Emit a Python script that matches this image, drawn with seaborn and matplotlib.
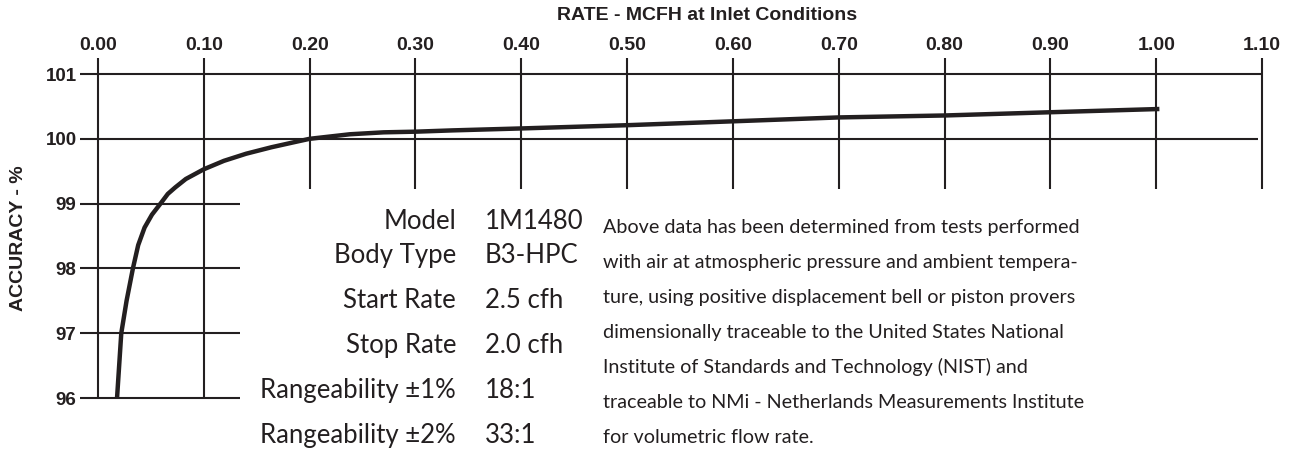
import numpy as np
import pandas as pd
import matplotlib.pyplot as plt
import seaborn as sns

# curve
rate = [0.018, 0.020, 0.022, 0.027, 0.033, 0.038, 0.044, 0.051, 0.060, 0.066,
        0.073, 0.083, 0.100, 0.119, 0.140, 0.164, 0.186, 0.200, 0.238, 0.270,
        0.300, 0.335, 0.400, 0.500, 0.600, 0.700, 0.800, 0.900, 1.003]
accuracy = [96.00, 96.50, 97.00, 97.50, 98.00, 98.36, 98.63, 98.83, 99.02, 99.15,
            99.25, 99.38, 99.53, 99.66, 99.77, 99.87, 99.95, 100.00, 100.07, 100.10,
            100.11, 100.13, 100.16, 100.21, 100.27, 100.33, 100.36, 100.41, 100.46]

x_ticks = [0.0, 0.1, 0.2, 0.3, 0.4, 0.5, 0.6, 0.7, 0.8, 0.9, 1.0, 1.1]
x_labels = ['0.00', '0.10', '0.20', '0.30', '0.40', '0.50', '0.60', '0.70',
            '0.80', '0.90', '1.00', '1.10']
y_ticks = [96, 97, 98, 99, 100, 101]

spec_names = ['Model', 'Body Type', 'Start Rate', 'Stop Rate',
              'Rangeability ±1%', 'Rangeability ±2%']
spec_values = ['1M1480', 'B3-HPC', '2.5 cfh', '2.0 cfh', '18:1', '33:1']

note_lines = [
    'Above data has been determined from tests performed',
    'with air at atmospheric pressure and ambient tempera-',
    'ture, using positive displacement bell or piston provers',
    'dimensionally traceable to the United States National',
    'Institute of Standards and Technology (NIST) and',
    'traceable to NMi - Netherlands Measurements Institute',
    'for volumetric flow rate.',
]

sns.set_style("white")
plt.rcParams['font.family'] = ['Liberation Sans', 'DejaVu Sans']
ink = '#231f20'

W, H = 1299, 453
fig = plt.figure(figsize=(W / 100, H / 100), dpi=100)
fig.patch.set_facecolor('white')

def px(x, y):
    return x / W, 1 - y / H

ax = fig.add_axes([80 / W, 1 - 443.4 / H, 1203.2 / W, 385.6 / H])
ax.set_xlim(-0.017, 1.12)
ax.set_ylim(95.3, 101.25)

# ruled grid
ax.hlines(101, -0.017, 1.10, color=ink, lw=1.5)
ax.hlines(100, -0.017, 1.096, color=ink, lw=1.5)
ax.hlines(y_ticks[:4], -0.017, 0.134, color=ink, lw=1.5)
ax.vlines(x_ticks[:2], 96, 101.25, color=ink, lw=1.5)
ax.vlines(x_ticks[2:], 99.23, 101.25, color=ink, lw=1.5)

df = pd.DataFrame({'rate': rate, 'accuracy': accuracy})
sns.lineplot(data=df, x='rate', y='accuracy', color=ink, lw=3.2, ax=ax,
             sort=False, estimator=None, zorder=5)
ax.lines[-1].set_solid_capstyle('butt')
ax.lines[-1].set_solid_joinstyle('round')

ax.xaxis.tick_top()
ax.set_xticks(x_ticks)
ax.set_xticklabels(x_labels, fontsize=14, fontweight='bold', color=ink)
ax.set_yticks(y_ticks)
ax.set_yticklabels([str(v) for v in y_ticks], fontsize=13.5, fontweight='bold', color=ink)
ax.tick_params(axis='x', length=0, pad=2.5)
ax.tick_params(axis='y', length=0, pad=2.5)
ax.set_xlabel('')
ax.set_ylabel('')
sns.despine(ax=ax, left=True, bottom=True, top=True, right=True)

fig.text(*px(707, 15), 'RATE - MCFH at Inlet Conditions', ha='center', va='center',
         fontsize=14, fontweight='bold', color=ink)
fig.text(*px(19, 238), 'ACCURACY - %', ha='center', va='center', rotation=90,
         fontsize=14, fontweight='bold', color=ink)

# spec table
body = ['Lato', 'DejaVu Sans']
spec_base = [229, 263, 308, 353, 398, 443]
for name, val, yb in zip(spec_names, spec_values, spec_base):
    fig.text(*px(456, yb), name, ha='right', va='baseline', fontsize=18.5,
             family=body, color=ink)
    fig.text(*px(485, yb), val, ha='left', va='baseline', fontsize=18.5,
             family=body, color=ink)

# note paragraph
for i, line in enumerate(note_lines):
    fig.text(*px(603, 233 + 35 * i), line, ha='left', va='baseline', fontsize=14.2,
             family=body, color=ink)

plt.savefig('out.png', dpi=100, facecolor=fig.get_facecolor())
